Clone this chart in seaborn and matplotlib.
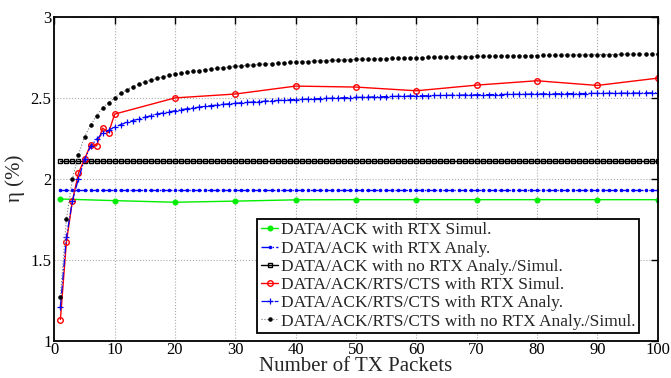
import numpy as np
import pandas as pd
import matplotlib
matplotlib.use("Agg")
import matplotlib.pyplot as plt
import seaborn as sns

# ---- data ----
x_all = list(range(1, 101))
x_sim = [1, 10, 20, 30, 40, 50, 60, 70, 80, 90, 100]
x_rts_sim = [1, 2, 3, 4, 5, 6, 7, 8, 9, 10, 20, 30, 40, 50, 60, 70, 80, 90, 100]

ack_rtx_sim = [1.875, 1.865, 1.855, 1.862, 1.870, 1.871, 1.871, 1.871, 1.871, 1.871, 1.871]
ack_rtx_analy = [1.928] * 100
ack_nortx = [2.111] * 100

rts_rtx_sim = [1.13, 1.61, 1.865, 2.036, 2.12, 2.21, 2.204, 2.313, 2.286, 2.40,
               2.50, 2.524, 2.573, 2.567, 2.544, 2.579, 2.606, 2.577, 2.622]

rts_rtx_analy = [
    1.21, 1.64, 1.865, 2.00, 2.12, 2.20, 2.245, 2.28, 2.30, 2.32,
    2.335, 2.348, 2.36, 2.37, 2.38, 2.39, 2.40, 2.407, 2.414, 2.42,
    2.427, 2.433, 2.438, 2.443, 2.448, 2.452, 2.456, 2.460, 2.464, 2.467,
    2.470, 2.472, 2.475, 2.477, 2.480, 2.482, 2.484, 2.486, 2.488, 2.490,
    2.491, 2.493, 2.494, 2.496, 2.497, 2.498, 2.500, 2.501, 2.502, 2.503,
    2.504, 2.505, 2.506, 2.507, 2.508, 2.509, 2.510, 2.511, 2.512, 2.513,
    2.513, 2.514, 2.515, 2.515, 2.516, 2.517, 2.517, 2.518, 2.519, 2.519,
    2.520, 2.520, 2.521, 2.521, 2.522, 2.522, 2.523, 2.523, 2.524, 2.524,
    2.525, 2.525, 2.525, 2.526, 2.526, 2.527, 2.527, 2.527, 2.528, 2.528,
    2.528, 2.529, 2.529, 2.529, 2.530, 2.530, 2.530, 2.531, 2.531, 2.531,
]

rts_nortx = [
    1.27, 1.75, 2.00, 2.15, 2.26, 2.33, 2.39, 2.44, 2.47, 2.50,
    2.53, 2.55, 2.57, 2.585, 2.60, 2.61, 2.62, 2.63, 2.64, 2.645,
    2.652, 2.658, 2.664, 2.669, 2.674, 2.679, 2.683, 2.687, 2.691, 2.695,
    2.698, 2.701, 2.704, 2.707, 2.710, 2.712, 2.715, 2.717, 2.719, 2.721,
    2.723, 2.725, 2.727, 2.729, 2.730, 2.732, 2.733, 2.735, 2.736, 2.738,
    2.739, 2.740, 2.741, 2.742, 2.743, 2.744, 2.745, 2.746, 2.747, 2.748,
    2.749, 2.750, 2.751, 2.752, 2.752, 2.753, 2.754, 2.755, 2.755, 2.756,
    2.757, 2.757, 2.758, 2.759, 2.759, 2.760, 2.760, 2.761, 2.762, 2.762,
    2.763, 2.763, 2.764, 2.764, 2.765, 2.765, 2.766, 2.766, 2.767, 2.767,
    2.768, 2.768, 2.768, 2.769, 2.769, 2.770, 2.770, 2.770, 2.771, 2.771,
]

labels = [
    "DATA/ACK with RTX Simul.",
    "DATA/ACK with RTX Analy.",
    "DATA/ACK with no RTX Analy./Simul.",
    "DATA/ACK/RTS/CTS with RTX Simul.",
    "DATA/ACK/RTS/CTS with RTX Analy.",
    "DATA/ACK/RTS/CTS with no RTX Analy./Simul.",
]
x_ticks = [0, 10, 20, 30, 40, 50, 60, 70, 80, 90, 100]
y_ticks = [1, 1.5, 2, 2.5, 3]
y_tick_labels = ["1", "1.5", "2", "2.5", "3"]

# ---- styling ----
sns.set_theme(style="white")
plt.rcParams["font.family"] = ["Liberation Serif", "DejaVu Serif"]
plt.rcParams["mathtext.fontset"] = "stix"

fig = plt.figure(figsize=(6.71, 3.78), dpi=100)
ax = fig.add_axes([0.081, 0.099, 0.899, 0.856])

green = "#00ee00"
blue = "#0000ff"
red = "#ff0000"

sns.lineplot(x=x_sim, y=ack_rtx_sim, ax=ax, color=green, linestyle="-", lw=1.0,
             marker="o", markersize=3.5, markerfacecolor=green,
             markeredgecolor=green, markeredgewidth=0.8, label=labels[0])
sns.lineplot(x=x_all, y=ack_rtx_analy, ax=ax, color=blue, linestyle="-.", lw=1.0,
             marker=".", markersize=3.5, markerfacecolor=blue,
             markeredgecolor=blue, markeredgewidth=0.8, label=labels[1])
sns.lineplot(x=x_all, y=ack_nortx, ax=ax, color="black", linestyle="-", lw=1.0,
             marker="s", markersize=3.0, markerfacecolor="none",
             markeredgecolor="black", markeredgewidth=1.0, label=labels[2])
sns.lineplot(x=x_rts_sim, y=rts_rtx_sim, ax=ax, color=red, linestyle="-", lw=1.0,
             marker="o", markersize=4, markerfacecolor="none",
             markeredgecolor=red, markeredgewidth=1.0, label=labels[3])
sns.lineplot(x=x_all, y=rts_rtx_analy, ax=ax, color=blue, linestyle="-.", lw=0.9,
             marker="+", markersize=4, markerfacecolor=blue,
             markeredgecolor=blue, markeredgewidth=0.9, label=labels[4])
sns.lineplot(x=x_all, y=rts_nortx, ax=ax, color="#777777", linestyle=":", lw=0.8,
             marker=".", markersize=5.5, markerfacecolor="black",
             markeredgecolor="black", markeredgewidth=0.4, label=labels[5])

ax.set_xlim(0, 100)
ax.set_ylim(1, 3)
ax.set_xticks(x_ticks)
ax.set_xticklabels([str(t) for t in x_ticks])
ax.set_yticks(y_ticks)
ax.set_yticklabels(y_tick_labels)
ax.grid(True, linestyle=":", color="#aaaaaa", linewidth=0.8)
ax.tick_params(direction="in", length=5, width=1, top=True, right=True,
               labelsize=12, pad=2, colors="black")
ax.tick_params(axis="x", pad=1)
for s in ax.spines.values():
    s.set_color("black")
    s.set_linewidth(1.3)
    s.set_visible(True)

ax.set_xlabel("Number of TX Packets", fontsize=15)
ax.xaxis.set_label_coords(0.5, -0.11)
ax.xaxis.label.set_va("bottom")
ax.set_ylabel("η (%)", fontsize=15, labelpad=4)

leg = ax.legend(loc="lower right", bbox_to_anchor=(0.952, 0.119),
                bbox_transform=fig.transFigure, borderaxespad=0,
                fontsize=12.5, frameon=True, fancybox=False, framealpha=1,
                edgecolor="black", handlelength=1.0, handletextpad=0.15,
                labelspacing=0.12, borderpad=0.2, numpoints=1)
leg.get_frame().set_linewidth(1.3)

fig.savefig("out.png", dpi=100)
